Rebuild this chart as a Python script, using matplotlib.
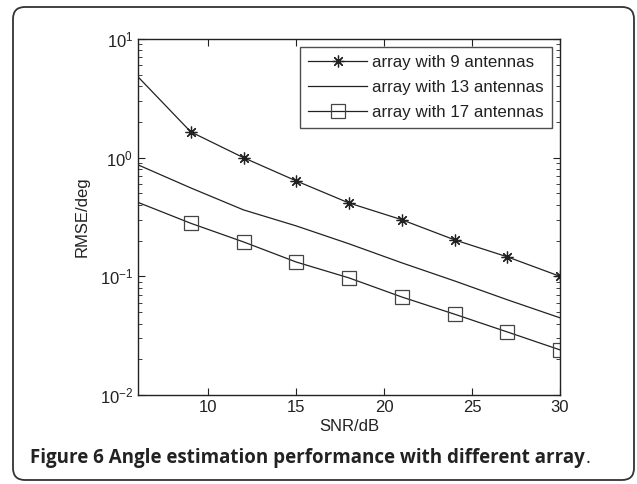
import matplotlib
matplotlib.use('Agg')
import matplotlib.pyplot as plt
from matplotlib.patches import FancyBboxPatch
from matplotlib.transforms import IdentityTransform
from matplotlib.ticker import LogLocator, NullFormatter

plt.rcParams['font.family'] = ['Liberation Sans', 'DejaVu Sans']
plt.rcParams['mathtext.fontset'] = 'custom'
plt.rcParams['mathtext.rm'] = 'Liberation Sans'
plt.rcParams['mathtext.it'] = 'Liberation Sans'

# data
snr = [6, 9, 12, 15, 18, 21, 24, 27, 30]
rmse_9 = [4.8, 1.65, 1.0, 0.637, 0.415, 0.30, 0.203, 0.146, 0.10]
rmse_13 = [0.87, 0.556, 0.363, 0.266, 0.188, 0.130, 0.0915, 0.0635, 0.0447]
rmse_17 = [0.42, 0.28, 0.195, 0.132, 0.097, 0.067, 0.048, 0.034, 0.024]
labels = ['array with 9 antennas', 'array with 13 antennas', 'array with 17 antennas']
xticks = [10, 15, 20, 25, 30]

col = '#222222'

fig = plt.figure(figsize=(6.37, 4.84), dpi=100)

# rounded frame around the whole figure
frame = FancyBboxPatch((13, 4), 621, 473, boxstyle='round,pad=0,rounding_size=12',
                       transform=IdentityTransform(), fill=False,
                       edgecolor='#333333', linewidth=1.3)
fig.patches.append(frame)

ax = fig.add_axes([138/637, 89/484, 422/637, 356/484])
# no marker on the first point (as in the original)
ax.semilogy(snr, rmse_9, color=col, lw=0.9, marker=(8, 2, 0), ms=8.5, mew=0.9,
            markevery=range(1, len(snr)), mec=col, label=labels[0])
ax.semilogy(snr, rmse_13, color=col, lw=0.9, label=labels[1])
ax.semilogy(snr, rmse_17, color=col, lw=0.9, marker='s', ms=10, mew=0.9,
            markevery=range(1, len(snr)), mfc='none', mec='#444444',
            label=labels[2])

ax.set_xlim(6, 30)
ax.set_ylim(1e-2, 1e1)
ax.set_xticks(xticks)
ax.yaxis.set_major_locator(LogLocator(base=10, numticks=10))
ax.yaxis.set_minor_locator(LogLocator(base=10, subs=range(2, 10), numticks=20))
ax.yaxis.set_minor_formatter(NullFormatter())
ax.tick_params(which='both', direction='in', top=True, right=True, labelsize=12,
               colors=col)
ax.tick_params(which='major', length=5)
ax.tick_params(which='minor', length=3)
for s in ax.spines.values():
    s.set_linewidth(1.0)
    s.set_color(col)

ax.set_xlabel('SNR/dB', fontsize=12, color=col, labelpad=3)
ax.set_ylabel('RMSE/deg', fontsize=12, color=col, labelpad=7)

leg = ax.legend(loc='upper right', fontsize=12.2, frameon=True, fancybox=False,
                handlelength=3.5, borderaxespad=0.5, labelspacing=0.6,
                handletextpad=0.3, borderpad=0.45)
leg.get_frame().set_edgecolor(col)
leg.get_frame().set_linewidth(1.0)
for t in leg.get_texts():
    t.set_color(col)

cap = fig.text(30/637, 1 - 463/484,
               'Figure 6 Angle estimation performance with different array',
               fontsize=13.5, fontweight='bold', family=['Open Sans', 'DejaVu Sans'],
               color='#222222', va='baseline')
fig.canvas.draw()
bb = cap.get_window_extent()
fig.text((bb.x1 + 1) / 637, 1 - 463/484, '.', fontsize=13.5,
         family=['Open Sans', 'DejaVu Sans'], color='#222222', va='baseline')

fig.savefig('out.png', dpi=100)
